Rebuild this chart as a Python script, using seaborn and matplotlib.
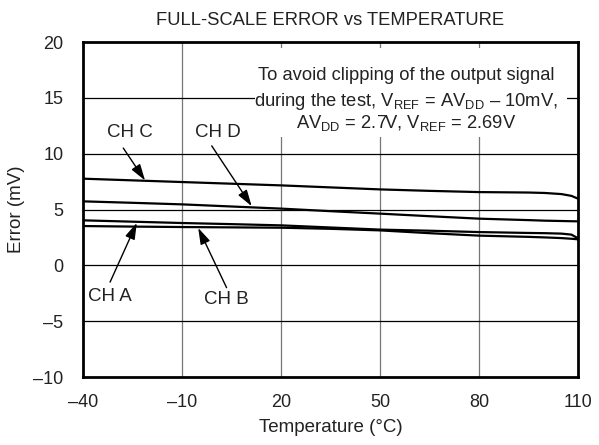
import numpy as np
import pandas as pd
import matplotlib
matplotlib.use("Agg")
import matplotlib.pyplot as plt
from matplotlib.patches import Rectangle
import seaborn as sns

# values
temperature = [-40, -25, -10, 5, 20, 35, 50, 65, 80, 95, 100, 105, 108, 110]
ch_a = [4.03, 3.91, 3.79, 3.69, 3.58, 3.39, 3.20, 3.10, 2.98, 2.90, 2.88, 2.84, 2.75, 2.42]
ch_b = [3.52, 3.47, 3.43, 3.40, 3.37, 3.27, 3.13, 2.88, 2.66, 2.55, 2.50, 2.44, 2.38, 2.33]
ch_c = [7.76, 7.61, 7.46, 7.31, 7.16, 6.98, 6.80, 6.67, 6.56, 6.52, 6.48, 6.38, 6.22, 5.97]
ch_d = [5.73, 5.60, 5.46, 5.27, 5.08, 4.85, 4.63, 4.40, 4.18, 4.05, 4.00, 3.97, 3.95, 3.94]
channels = ["CH A", "CH B", "CH C", "CH D"]

x_ticks = [-40, -10, 20, 50, 80, 110]
y_ticks = [-10, -5, 0, 5, 10, 15, 20]

note_lines = [
    "To avoid clipping of the output signal",
    "during the test, V$_{\\mathregular{REF}}$ = AV$_{\\mathregular{DD}}$ \u2013 10mV,",
    "AV$_{\\mathregular{DD}}$ = 2.7V, V$_{\\mathregular{REF}}$ = 2.69V",
]

df = pd.DataFrame({
    "Temperature": temperature * 4,
    "Error": ch_a + ch_b + ch_c + ch_d,
    "Channel": np.repeat(channels, len(temperature)),
})

sns.set_style("white")
plt.rcParams["font.family"] = ["Liberation Sans", "DejaVu Sans"]
plt.rcParams["mathtext.fontset"] = "custom"
plt.rcParams["mathtext.rm"] = "Liberation Sans"
txt = "#222222"

fig = plt.figure(figsize=(5.99, 4.45), dpi=100)
ax = fig.add_axes([0.1386, 0.1528, 0.8264, 0.7528])

sns.lineplot(data=df, x="Temperature", y="Error", units="Channel", estimator=None,
             color="black", linewidth=1.6, ax=ax, legend=False, zorder=3)

ax.set_xlim(-40, 110)
ax.set_ylim(-10, 20)
ax.set_xticks(x_ticks)
ax.set_yticks(y_ticks)
ax.set_xticklabels([str(t).replace("-", "\u2013") for t in x_ticks])
ax.set_yticklabels([str(t).replace("-", "\u2013") for t in y_ticks])
ax.tick_params(axis="both", labelsize=13, length=0, labelcolor=txt)
ax.tick_params(axis="x", pad=12)
ax.tick_params(axis="y", pad=14)

# grid: gray verticals, black horizontals
for t in x_ticks[1:-1]:
    ax.axvline(t, color="#777777", linewidth=0.9, zorder=1)
for t in y_ticks[1:-1]:
    ax.axhline(t, color="black", linewidth=0.9, zorder=1)

for s in ax.spines.values():
    s.set_linewidth(2.0)
    s.set_color("black")

ax.set_xlabel("Temperature (\u00b0C)", fontsize=13.5, labelpad=6, color=txt)
ax.set_ylabel("Error (mV)", fontsize=13.5, labelpad=6, color=txt)
ax.set_title("FULL-SCALE ERROR vs TEMPERATURE", fontsize=13.2, pad=12, color=txt)

# white box behind the test-condition note
ax.add_patch(Rectangle((12.1, 11.46), 94.6, 7.97, facecolor="white",
                       edgecolor="none", zorder=2))
for line, yb in zip(note_lines, [16.62, 14.26, 12.33]):
    ax.text(58.0, yb, line, ha="center", va="baseline", fontsize=13.2,
            color=txt, zorder=4)

arrow = dict(arrowstyle="-|>,head_length=0.9,head_width=0.28", color="black",
             linewidth=1.0, mutation_scale=11, shrinkA=0, shrinkB=0)
labels = [
    ("CH C", (-21.2, 7.6), (-25.8, 11.9), (-27.8, 10.5)),
    ("CH D", (11.1, 5.3), (1.0, 11.9), (-1.0, 10.7)),
    ("CH A", (-23.7, 3.8), (-31.8, -2.8), (-31.8, -1.5)),
    ("CH B", (-5.1, 3.35), (3.5, -3.1), (3.5, -2.0)),
]
for name, tip, text_pos, tail in labels:
    ax.text(text_pos[0], text_pos[1], name, ha="center", va="center", fontsize=13.5,
            color=txt, zorder=4)
    ax.annotate("", xy=tip, xytext=tail, arrowprops=arrow, zorder=4)

fig.savefig("out.png", dpi=100)
